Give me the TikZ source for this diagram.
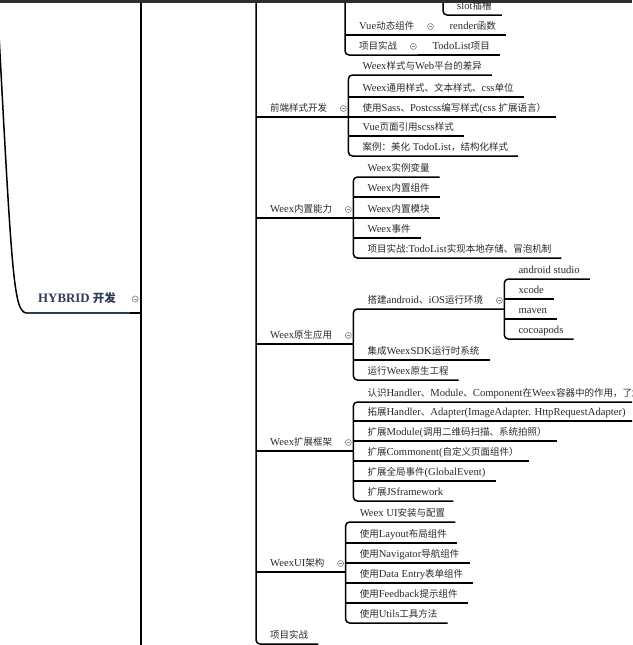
\documentclass[tikz,border=0pt]{standalone}
\usepackage{fontspec}
\setmainfont{Liberation Serif}[Scale=1.12]
\newfontfamily\hanfont{Noto Sans CJK SC}
\usetikzlibrary{calc}

% Han characters go to the CJK font, everything else stays in the main font
\XeTeXinterchartokenstate=1
\newXeTeXintercharclass\hanclass
\newcount\hancode
\hancode=0
\loop\XeTeXcharclass\hancode=0 \advance\hancode by 1 \ifnum\hancode<"2E80 \repeat
\hancode="2E80
\loop\XeTeXcharclass\hancode=\hanclass \advance\hancode by 1 \ifnum\hancode<"A000 \repeat
\hancode="FF00
\loop\XeTeXcharclass\hancode=\hanclass \advance\hancode by 1 \ifnum\hancode<"FFF0 \repeat
\XeTeXinterchartoks 0 \hanclass = {\hanfont}
\XeTeXinterchartoks 4095 \hanclass = {\hanfont}
\XeTeXinterchartoks \hanclass 0 = {\rmfamily}
\XeTeXinterchartoks \hanclass 4095 = {\rmfamily}

\definecolor{ink}{HTML}{2A2A2A}
\definecolor{rootink}{HTML}{2E3B55}

\tikzset{
  link/.style={line width=1.5pt, rounded corners=4pt},
  rootline/.style={line width=2pt, rootink},
  box/.style={anchor=south west, inner xsep=0pt, inner ysep=0pt,
    text height=8pt, text depth=5.5pt, text=ink,
    font=\fontsize{9.5pt}{11pt}\selectfont,
    execute at begin node=\hspace*{14pt}},
  topic/.style={box, execute at end node=\hspace*{10pt}},
  ptopic/.style={box, execute at end node=\hspace*{21pt}},
  rtopic/.style={anchor=south west, inner xsep=0pt, inner ysep=0pt,
    text height=9pt, text depth=10.5pt, text=rootink,
    font=\fontsize{11.5pt}{13pt}\selectfont\bfseries,
    execute at begin node=\hspace*{12pt}, execute at end node=\hspace*{14pt}},
  fold/.style={circle, draw=black!45, fill=white, line width=.7pt,
    minimum size=6pt, inner sep=0pt,
    path picture={\draw[black!45, line width=.6pt]
      ([xshift=-1.6pt]path picture bounding box.center) --
      ([xshift=1.6pt]path picture bounding box.center);}},
}

\begin{document}
\begin{tikzpicture}[x=1pt, y=-1pt]
\useasboundingbox (0,0) rectangle (632,645);
\clip (0,0) rectangle (632,645);

% parents above the visible part
\coordinate (rootin) at (-1,35);
\coordinate (hub) at (256,-8);
\coordinate (vtop) at (345,-8);
\coordinate (stop) at (443,-8);

% root
\node[rtopic] (root) at (26,313) {HYBRID 开发};
\coordinate (rootX) at ([xshift=11pt]root.south east);
\draw[link] (rootin) .. controls +(13,245) and +(-12,-3) .. (root.south west);
\draw[rootline] (root.south west) -- (root.south east);
\draw[link] (root.south east) -- (rootX);
\draw[link] (rootX |- 0,-8) -- (rootX |- 0,653);

% top leftovers
\node[topic] (slot) at (stop |- 0,15) {slot插槽};
\node[ptopic] (vue) at (vtop |- 0,35) {Vue动态组件};
\node[topic] (render) at (vue.south east) {render函数};
\node[ptopic] (sz) at (vtop |- 0,55) {项目实战};
\node[topic] (todo) at (sz.south east) {TodoList项目};
\draw[link] (stop) |- (slot.south east);
\draw[link] (vtop) |- (sz.south east);
\draw[link] (vue.south west) -- (vue.south east);
\draw[link] (vue.south east) -- (render.south east);
\draw[link] (sz.south east) -- (todo.south east);

% second level
\node[ptopic] (qd) at (hub |- 0,117) {前端样式开发};
\node[ptopic] (nz) at (hub |- 0,218) {Weex内置能力};
\node[ptopic] (ys) at (hub |- 0,344) {Weex原生应用};
\node[ptopic] (kz) at (hub |- 0,451) {Weex扩展框架};
\node[ptopic] (ui) at (hub |- 0,572) {WeexUI架构};
\node[topic] (xm) at (hub |- 0,644) {项目实战};
\draw[link] (hub) |- (xm.south east);
\foreach \n in {qd,nz,ys,kz,ui}
  \draw[link] (\n.south west) -- (\n.south east);

% 前端样式开发
\foreach \i/\y/\t in {1/75/{Weex样式与Web平台的差异}, 2/97/{Weex通用样式、文本样式、css单位},
    3/117/{使用Sass、Postcss编写样式(css 扩展语言）}, 4/136/{Vue页面引用scss样式},
    5/156/{案例：美化 TodoList，结构化样式}}
  \node[topic] (qd\i) at (qd.south east |- 0,\y) {\t};
\draw[link] (qd1.south east) -| (qd.south east) |- (qd5.south east);
\foreach \i in {2,3,4}
  \draw[link] (qd\i.south west) -- (qd\i.south east);

% Weex内置能力
\foreach \i/\y/\t in {1/177/{Weex实例变量}, 2/197/{Weex内置组件}, 3/218/{Weex内置模块},
    4/238/{Weex事件}, 5/258/{项目实战:TodoList实现本地存储、冒泡机制}}
  \node[topic] (nz\i) at (nz.south east |- 0,\y) {\t};
\draw[link] (nz1.south east) -| (nz.south east) |- (nz5.south east);
\foreach \i in {2,3,4}
  \draw[link] (nz\i.south west) -- (nz\i.south east);

% Weex原生应用
\node[ptopic] (dj) at (ys.south east |- 0,309) {搭建android、iOS运行环境};
\node[topic] (ys2) at (ys.south east |- 0,360) {集成WeexSDK运行时系统};
\node[topic] (ys3) at (ys.south east |- 0,380) {运行Weex原生工程};
\draw[link] (dj.south east) -| (ys.south east) |- (ys3.south east);
\draw[link] (ys2.south west) -- (ys2.south east);

\foreach \i/\y/\t in {1/279/{android studio}, 2/299/{xcode}, 3/319/{maven}, 4/339/{cocoapods}}
  \node[topic] (dj\i) at (dj.south east |- 0,\y) {\t};
\draw[link] (dj1.south east) -| (dj.south east) |- (dj4.south east);
\foreach \i in {2,3}
  \draw[link] (dj\i.south west) -- (dj\i.south east);

% Weex扩展框架
\foreach \i/\y/\t in {1/402/{认识Handler、Module、Component在Weex容器中的作用，了解},
    2/421/{拓展Handler、Adapter(ImageAdapter. HttpRequestAdapter)},
    3/441/{扩展Module(调用二维码扫描、系统拍照）}, 4/461/{扩展Commonent(自定义页面组件）},
    5/481/{扩展全局事件(GlobalEvent)}, 6/501/{扩展JSframework}}
  \node[topic] (kz\i) at (kz.south east |- 0,\y) {\t};
\draw[link] (kz1.south east) -| (kz.south east) |- (kz6.south east);
\foreach \i in {2,3,4,5}
  \draw[link] (kz\i.south west) -- (kz\i.south east);

% WeexUI架构
\foreach \i/\y/\t in {1/522/{Weex UI安装与配置}, 2/543/{使用Layout布局组件},
    3/563/{使用Navigator导航组件}, 4/583/{使用Data Entry表单组件},
    5/603/{使用Feedback提示组件}, 6/623/{使用Utils工具方法}}
  \node[topic] (ui\i) at (ui.south east |- 0,\y) {\t};
\draw[link] (ui1.south east) -| (ui.south east) |- (ui6.south east);
\foreach \i in {2,3,4,5}
  \draw[link] (ui\i.south west) -- (ui\i.south east);

% fold markers
\foreach \n in {vue,sz,qd,nz,ys,dj,kz,ui}
  \node[fold] (f\n) at ([xshift=-5pt,yshift=8.5pt]\n.south east) {};
\node[fold] (froot) at ([xshift=5pt,yshift=14pt]root.south east) {};

\fill[black!82] (0,0) rectangle (632,2.5);
\end{tikzpicture}
\end{document}
